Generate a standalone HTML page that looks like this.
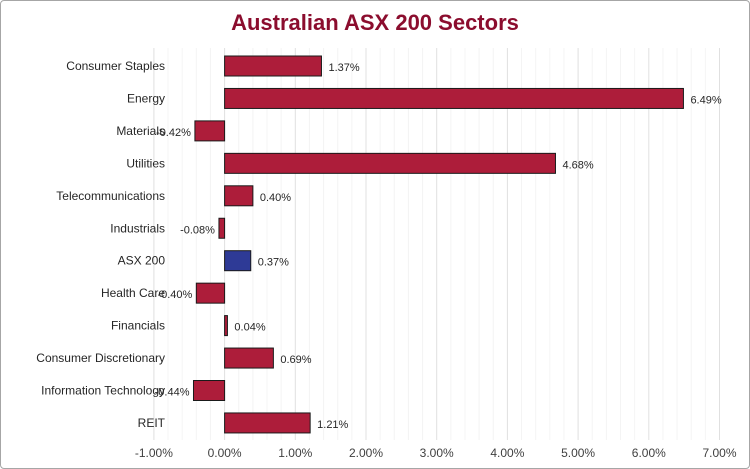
<!DOCTYPE html>
<html><head><meta charset="utf-8"><style>
body{margin:0;background:#fff;font-family:"Liberation Sans",sans-serif}
#c{position:absolute;left:0;top:0;width:748px;height:467px;border:1px solid #a6a6a6;border-radius:4px;}
</style></head><body>
<div id="c"></div>
<svg id="s" width="750" height="469" style="position:absolute;left:0;top:0">
<text x="375" y="30" text-anchor="middle" font-size="22" font-weight="bold" fill="#8b0d2e">Australian ASX 200 Sectors</text>
</svg>
<script>
const categories=["Consumer Staples","Energy","Materials","Utilities","Telecommunications","Industrials","ASX 200","Health Care","Financials","Consumer Discretionary","Information Technology","REIT"];
const values=[1.37,6.49,-0.42,4.68,0.40,-0.08,0.37,-0.40,0.04,0.69,-0.44,1.21];
const ticks=[-1,0,1,2,3,4,5,6,7];
const ns="http://www.w3.org/2000/svg",s=document.getElementById('s');
const x=v=>224.6+v*70.7;
const y0=66,step=32.45;
const y=i=>y0+i*step;
function mk(t,a){const e=document.createElementNS(ns,t);for(const k in a)e.setAttribute(k,a[k]);s.appendChild(e);return e;}
for(let m=-5;m<=35;m++){if(m%5==0)continue;const e=mk('line',{x1:x(m*0.2),x2:x(m*0.2),y1:48,y2:440,stroke:'#f4f4f4','stroke-width':1});

}
ticks.forEach(t=>{const g=mk('line',{x1:x(t),x2:x(t),y1:48,y2:440,stroke:'#e0e0e0','stroke-width':1});


const l=mk('text',{x:x(t),y:457,'text-anchor':'middle','font-size':12,fill:'#404040'});l.textContent=t.toFixed(2)+'%';

});
categories.forEach((c,i)=>{const v=values[i];
const b=mk('rect',{x:Math.min(x(0),x(v)),y:y(i)-10,width:Math.abs(x(v)-x(0)),height:20,fill:c=="ASX 200"?'#2e3a96':'#ad1d3a',stroke:'#1a1a1a','stroke-width':1});


const l=mk('text',{x:165,y:y(i)+4,'text-anchor':'end','font-size':12,fill:'#262626'});l.textContent=c;


const d=mk('text',{x:v>=0?x(v)+7:x(v)-4,y:y(i)+5,'text-anchor':v>=0?'start':'end','font-size':11,fill:'#262626'});d.textContent=v.toFixed(2)+'%';

});
</script>
</body></html>
